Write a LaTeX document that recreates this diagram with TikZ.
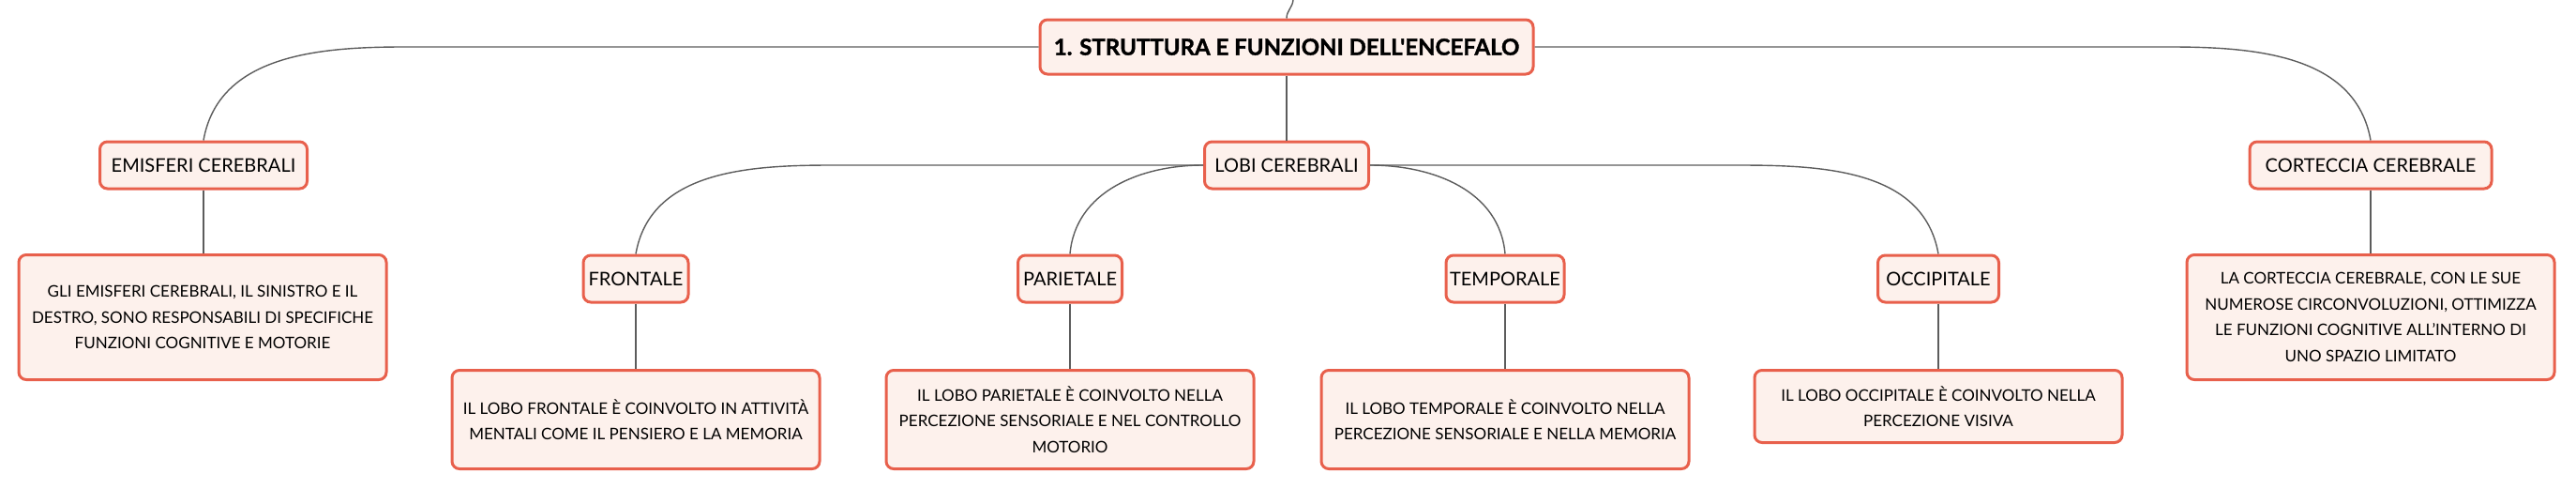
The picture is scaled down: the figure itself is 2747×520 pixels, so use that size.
\documentclass[tikz,border=0pt]{standalone}
\usepackage{fontspec}
\setmainfont{Lato}
\newfontfamily\titlefont{Lato}[BoldFeatures={FakeBold=1.5}]

\definecolor{mapred}{HTML}{E8604C}
\definecolor{mapfill}{HTML}{FDF1EC}
\definecolor{maplink}{HTML}{5C5C5C}

\tikzset{
  mapbox/.style={draw=mapred, fill=mapfill, line width=3pt, rounded corners=8pt,
    align=center, inner sep=0pt, text=black},
  headbox/.style={mapbox, minimum height=50pt, font=\fontsize{20}{24}\selectfont},
  notebox/.style={mapbox, minimum width=392pt, font=\fontsize{17}{27.5}\selectfont},
  link/.style={draw=maplink, line width=1.4pt}
}

\begin{document}
\begin{tikzpicture}[x=1pt, y=-1pt]
                    \useasboundingbox (0,0) rectangle (2747,520);

                    % Marking central topic
                    \node (title) at (1372,50) [mapbox, minimum width=526pt, minimum height=58pt,
                      font=\titlefont\fontsize{24}{28}\selectfont\bfseries] {1. STRUTTURA E FUNZIONI DELL'ENCEFALO};%

                    % Marking main branches
                    \node (emi) at (217,176) [headbox, minimum width=221pt] {EMISFERI CEREBRALI};%
                    \node (lobi) at (1372,176) [headbox, minimum width=175pt] {LOBI CEREBRALI};%
                    \node (cort) at (2528,176) [headbox, minimum width=258pt] {CORTECCIA CEREBRALE};%

                    % Marking lobes
                    \node (front) at (678,297) [headbox, minimum width=112pt] {FRONTALE};%
                    \node (par) at (1141,297) [headbox, minimum width=111pt] {PARIETALE};%
                    \node (temp) at (1605,297) [headbox, minimum width=126pt] {TEMPORALE};%
                    \node (occ) at (2067,297) [headbox, minimum width=129pt] {OCCIPITALE};%

                    % Marking notes
                    \node (emid) at (216,338) [notebox, minimum height=133pt]
                      {GLI EMISFERI CEREBRALI, IL SINISTRO E IL\\ DESTRO, SONO RESPONSABILI DI SPECIFICHE\\ FUNZIONI COGNITIVE E MOTORIE};%
                    \node (frontd) at (678,447) [notebox, minimum height=105pt]
                      {IL LOBO FRONTALE È COINVOLTO IN ATTIVITÀ\\ MENTALI COME IL PENSIERO E LA MEMORIA};%
                    \node (pard) at (1141,447) [notebox, minimum height=105pt]
                      {IL LOBO PARIETALE È COINVOLTO NELLA\\ PERCEZIONE SENSORIALE E NEL CONTROLLO\\ MOTORIO};%
                    \node (tempd) at (1605,447) [notebox, minimum height=105pt]
                      {IL LOBO TEMPORALE È COINVOLTO NELLA\\ PERCEZIONE SENSORIALE E NELLA MEMORIA};%
                    \node (occd) at (2067,433) [notebox, minimum height=77pt]
                      {IL LOBO OCCIPITALE È COINVOLTO NELLA\\ PERCEZIONE VISIVA};%
                    \node (cortd) at (2528,338) [notebox, minimum height=133pt]
                      {LA CORTECCIA CEREBRALE, CON LE SUE\\ NUMEROSE CIRCONVOLUZIONI, OTTIMIZZA\\ LE FUNZIONI COGNITIVE ALL'INTERNO DI\\ UNO SPAZIO LIMITATO};%

                    % Drawing link to parent topic
                    \coordinate (up) at (1379,0);
                    \draw [link] (title.north) to[out=90,in=265] (up);%

                    % Drawing links from central topic
                    \draw [link] (title.west) -- (431,50) to[out=180,in=80] (emi.north);%
                    \draw [link] (title.east) -- (2314,50) to[out=0,in=100] (cort.north);%
                    \draw [link] (title.south) -- (lobi.north);%

                    % Drawing links from lobi
                    \draw [link] (lobi.west) -- (887,176) to[out=180,in=80] (front.north);%
                    \draw [link] (lobi.west) to[out=180,in=85] (par.north);%
                    \draw [link] (lobi.east) to[out=0,in=95] (temp.north);%
                    \draw [link] (lobi.east) -- (1853,176) to[out=0,in=100] (occ.north);%

                    % Drawing links to notes
                    \draw [link] (emi.south) -- (emi.south |- emid.north);%
                    \draw [link] (front) -- (frontd);%
                    \draw [link] (par.south) -- (pard.north);%
                    \draw [link] (temp.south) -- (tempd.north);%
                    \draw [link] (occ.south) -- (occd.north);%
                    \draw [link] (cort.south) -- (cortd.north);%
\end{tikzpicture}
\end{document}
